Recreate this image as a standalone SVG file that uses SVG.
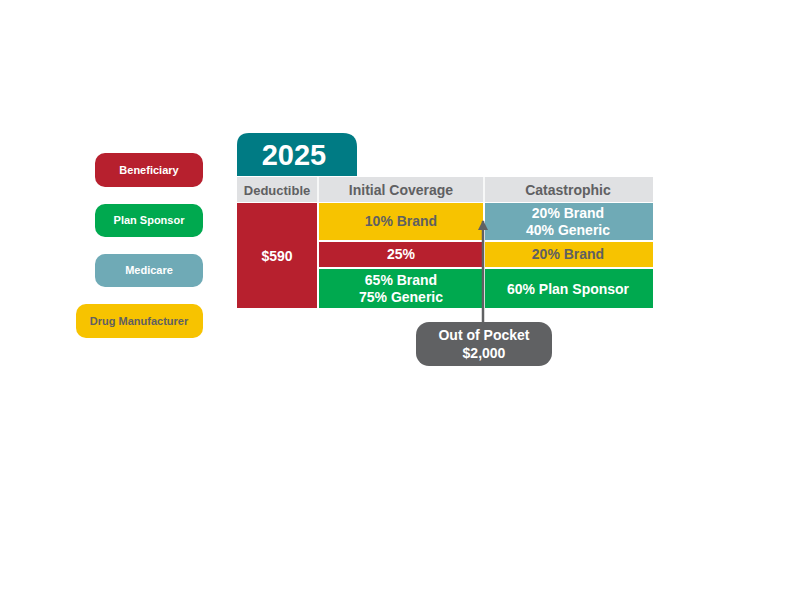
<svg xmlns="http://www.w3.org/2000/svg" width="792" height="612" viewBox="0 0 792 612">
<style>
text{font-family:"Liberation Sans Narrow","Liberation Sans",Arial,sans-serif;font-weight:bold;text-anchor:middle}
.w{fill:#fff}.g{fill:#5f6062}
.t{font-size:14px}.h{font-size:13px}.l{font-size:11px}
.red{fill:#b7202e}.grn{fill:#00a94f}.blu{fill:#6faab6}.yel{fill:#f7c300}.hdr{fill:#e0e1e3}
</style>
<defs><marker id="ah" viewBox="0 0 10 10" refX="9" refY="5" markerWidth="10" markerHeight="10" markerUnits="userSpaceOnUse" orient="auto"><path d="M0,0 L10,5 L0,10 Z" fill="#606163"/></marker></defs>
<rect width="792" height="612" fill="#fff"/>
<g id="legend">
<g id="leg-beneficiary"><rect class="red" x="95" y="153" width="108" height="34" rx="10"/><text class="w l" x="149" y="174">Beneficiary</text></g>
<g id="leg-plan"><rect class="grn" x="95" y="204" width="108" height="33" rx="10"/><text class="w l" x="149" y="224">Plan Sponsor</text></g>
<g id="leg-medicare"><rect class="blu" x="95" y="254" width="108" height="33" rx="10"/><text class="w l" x="149" y="274">Medicare</text></g>
<g id="leg-drug"><rect class="yel" x="76" y="304" width="127" height="34" rx="10"/><text class="g l" x="139" y="325">Drug Manufacturer</text></g>
</g>
<g id="tab"><path d="M237,176 V145 Q237,133 249,133 H343 Q357,133 357,147 V176 Z" fill="#007b84"/><text class="w" x="294" y="165" style="font-size:29px">2025</text></g>
<g id="table">
<rect class="hdr" x="237" y="177" width="416" height="25"/>
<line x1="318" y1="177" x2="318" y2="202" stroke="#fff" stroke-width="1.5"/>
<line x1="484" y1="177" x2="484" y2="202" stroke="#fff" stroke-width="1.5"/>
<text class="g h" x="277" y="195">Deductible</text>
<text class="g t" x="401" y="195">Initial Coverage</text>
<text class="g t" x="568" y="195">Catastrophic</text>
<g id="ded"><rect class="red" x="237" y="203" width="80" height="105"/><text class="w t" x="277" y="261">$590</text></g>
<g id="ic1"><rect class="yel" x="319" y="203" width="164" height="37"/><text class="g t" x="401" y="226">10% Brand</text></g>
<g id="ic2"><rect class="red" x="319" y="242" width="164" height="25"/><text class="w t" x="401" y="259">25%</text></g>
<g id="ic3"><rect class="grn" x="319" y="269" width="164" height="39"/><text class="w t" x="401" y="285">65% Brand</text><text class="w t" x="401" y="302">75% Generic</text></g>
<g id="c1"><rect class="blu" x="485" y="203" width="168" height="37"/><text class="w t" x="568" y="218">20% Brand</text><text class="w t" x="568" y="235">40% Generic</text></g>
<g id="c2"><rect class="yel" x="485" y="242" width="168" height="25"/><text class="g t" x="568" y="259">20% Brand</text></g>
<g id="c3"><rect class="grn" x="485" y="269" width="168" height="39"/><text class="w t" x="568" y="294">60% Plan Sponsor</text></g>
</g>
<g id="connectors"><line x1="483" y1="323" x2="483" y2="221" stroke="#606163" stroke-width="2.5" marker-end="url(#ah)"/></g>
<g id="oop"><rect x="416" y="322" width="136" height="44" rx="13" fill="#606163"/><text class="w t" x="484" y="340">Out of Pocket</text><text class="w t" x="484" y="358">$2,000</text></g>
</svg>
